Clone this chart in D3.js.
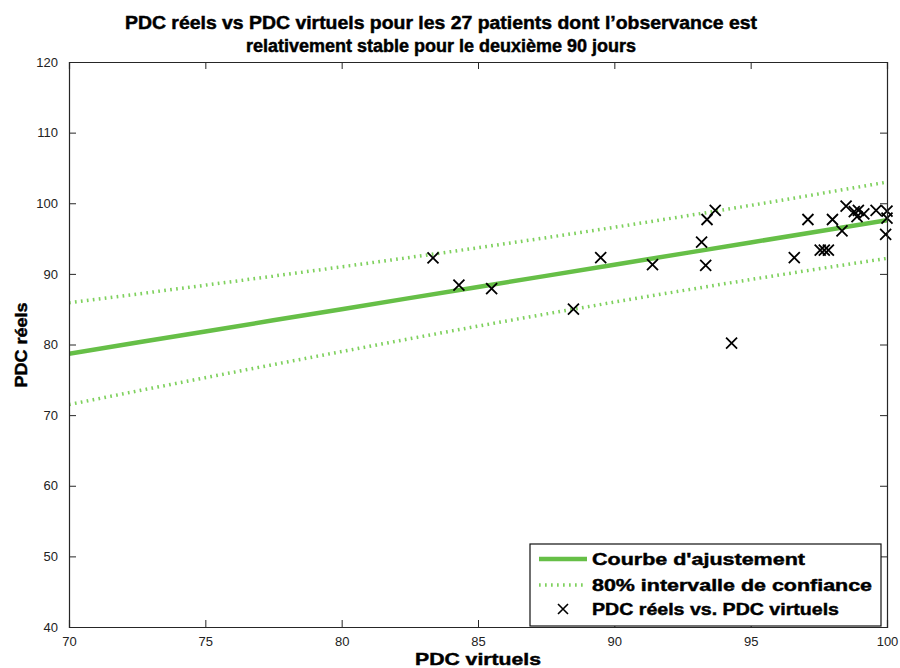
<!DOCTYPE html>
<html>
<head>
<meta charset="utf-8">
<script src="https://cdn.jsdelivr.net/npm/d3@7"></script>
<style>
  html, body { margin: 0; padding: 0; background: #fff; }
  svg { display: block; font-family: "Liberation Sans", Arial, sans-serif; }
  .bold { font-family: "Liberation Sans", Arial, sans-serif; font-weight: bold; fill: #000; stroke: #000; stroke-width: 0.45px; }
</style>
</head>
<body>
<svg id="chart" width="900" height="668"></svg>
<script>
// Observed points: virtual PDC (x) vs real PDC (y)
const pdcVirtuels = [83.35, 84.3, 85.5, 88.5, 89.5, 91.4, 93.2, 93.35, 93.4, 93.7, 94.3,
  96.6, 97.1, 97.55, 97.7, 97.85, 98.0, 98.35, 98.5, 98.8, 98.95, 98.9, 99.15, 99.6,
  100.0, 100.0, 99.95];
const pdcReels = [92.25, 88.4, 87.9, 85.0, 92.3, 91.3, 94.5, 91.2, 97.7, 99.0, 80.2,
  92.3, 97.7, 93.35, 93.35, 93.35, 97.7, 96.1, 99.6, 98.8, 99.0, 98.1, 98.5, 99.0,
  98.9, 97.9, 95.6];

// Fitted curve and 80% confidence band, sampled along x
const fitX = [70, 75, 80, 85, 90, 95, 100];
const fitY = [78.7, 81.85, 85.0, 88.15, 91.3, 94.45, 97.6];
const ciUpper = [85.9, 88.4, 91.0, 93.7, 96.6, 99.7, 103.0];
const ciLower = [71.5, 75.3, 79.0, 82.6, 86.0, 89.2, 92.2];

const xTicks = [70, 75, 80, 85, 90, 95, 100];
const yTicks = [40, 50, 60, 70, 80, 90, 100, 110, 120];

const titleLines = ["PDC réels vs PDC virtuels pour les 27 patients dont l’observance est",
  "relativement stable pour le deuxième 90 jours"];
const legendLabels = ["Courbe d'ajustement", "80% intervalle de confiance", "PDC réels vs. PDC virtuels"];

const svg = d3.select("#chart");
const plotL = 69, plotR = 887, plotT = 62, plotB = 627;
const x = d3.scaleLinear().domain([70, 100]).range([plotL, plotR]);
const y = d3.scaleLinear().domain([40, 120]).range([plotB, plotT]);

const fitColor = "#66bf47";
const ciColor = "#7fd15e";

// Stretch text to a given width without changing its font size
function fitWidth(sel, w) {
  sel.attr("textLength", w).attr("lengthAdjust", "spacingAndGlyphs");
}

const plot = svg.append("g");
plot.append("clipPath").attr("id", "clip").append("rect")
  .attr("x", plotL).attr("y", plotT).attr("width", plotR - plotL).attr("height", plotB - plotT);

const area = plot.append("g").attr("clip-path", "url(#clip)");
const lineGen = d3.line().x(d => x(d[0])).y(d => y(d[1])).curve(d3.curveMonotoneX);

area.append("path").datum(fitX.map((v, i) => [v, ciUpper[i]]))
  .attr("d", lineGen).attr("fill", "none").attr("stroke", ciColor)
  .attr("stroke-width", 3.5).attr("stroke-dasharray", "1.7,4.3");
area.append("path").datum(fitX.map((v, i) => [v, ciLower[i]]))
  .attr("d", lineGen).attr("fill", "none").attr("stroke", ciColor)
  .attr("stroke-width", 3.5).attr("stroke-dasharray", "1.7,4.3");
area.append("path").datum(fitX.map((v, i) => [v, fitY[i]]))
  .attr("d", lineGen).attr("fill", "none").attr("stroke", fitColor)
  .attr("stroke-width", 4.5);

// Cross markers
const cross = (cx, cy, r) => `M${cx - r},${cy - r}L${cx + r},${cy + r}M${cx - r},${cy + r}L${cx + r},${cy - r}`;
plot.append("g").selectAll("path").data(pdcVirtuels.map((v, i) => [v, pdcReels[i]]))
  .join("path")
  .attr("d", d => cross(x(d[0]), y(d[1]), 5.5))
  .attr("stroke", "#000").attr("stroke-width", 1.8).attr("fill", "none");

// Axes box with inward ticks on all four sides
const axisColor = "#262626";
const tickLen = 7;
const axisFont = "13px";

const xb = svg.append("g").attr("transform", `translate(0,${plotB})`)
  .call(d3.axisBottom(x).tickValues(xTicks).tickSize(-tickLen).tickPadding(tickLen + 3).tickFormat(d3.format("d")));
const xt = svg.append("g").attr("transform", `translate(0,${plotT})`)
  .call(d3.axisTop(x).tickValues(xTicks).tickSize(-tickLen).tickFormat(""));
const yl = svg.append("g").attr("transform", `translate(${plotL},0)`)
  .call(d3.axisLeft(y).tickValues(yTicks).tickSize(-tickLen).tickPadding(tickLen + 4).tickFormat(d3.format("d")));
const yr = svg.append("g").attr("transform", `translate(${plotR},0)`)
  .call(d3.axisRight(y).tickValues(yTicks).tickSize(-tickLen).tickFormat(""));

[xb, xt, yl, yr].forEach(g => {
  g.select(".domain").attr("stroke", axisColor).attr("stroke-width", 1.2);
  g.selectAll(".tick line").attr("stroke", axisColor).attr("stroke-width", 1);
  g.selectAll("text").attr("fill", "#222").style("font-size", axisFont)
    .style("font-family", "'Liberation Sans', Arial, sans-serif");
});

// Title
const titleWidths = [632, 390];
svg.append("g").selectAll("text").data(titleLines).join("text")
  .attr("class", "bold")
  .attr("x", 441).attr("y", (d, i) => 29 + i * 23)
  .attr("text-anchor", "middle")
  .style("font-size", "17.5px")
  .text(d => d)
  .each(function (d, i) { fitWidth(d3.select(this), titleWidths[i]); });

// Axis labels
svg.append("text").attr("class", "bold").attr("x", 478).attr("y", 665).attr("text-anchor", "middle")
  .style("font-size", "17px").text("PDC virtuels").call(fitWidth, 126);
svg.append("text").attr("class", "bold").attr("transform", "translate(27,345) rotate(-90)").attr("text-anchor", "middle")
  .style("font-size", "17px").text("PDC réels").call(fitWidth, 85);

// Legend
const lg = svg.append("g");
lg.append("rect").attr("x", 530).attr("y", 544).attr("width", 351).attr("height", 82)
  .attr("fill", "#fff").attr("stroke", "#111").attr("stroke-width", 1.2);
const rowsY = [559, 585, 609];
const legendWidths = [213, 280, 247];
lg.append("line").attr("x1", 539).attr("x2", 587).attr("y1", rowsY[0]).attr("y2", rowsY[0])
  .attr("stroke", fitColor).attr("stroke-width", 4.5);
lg.append("line").attr("x1", 539).attr("x2", 587).attr("y1", rowsY[1]).attr("y2", rowsY[1])
  .attr("stroke", ciColor).attr("stroke-width", 3.5).attr("stroke-dasharray", "1.7,4.3");
lg.append("path").attr("d", cross(563, rowsY[2], 5)).attr("stroke", "#000")
  .attr("stroke-width", 1.6).attr("fill", "none");
lg.selectAll("text").data(legendLabels).join("text")
  .attr("class", "bold")
  .attr("x", 592).attr("y", (d, i) => rowsY[i] + 6)
  .style("font-size", "17px")
  .text(d => d)
  .each(function (d, i) { fitWidth(d3.select(this), legendWidths[i]); });
</script>
</body>
</html>
